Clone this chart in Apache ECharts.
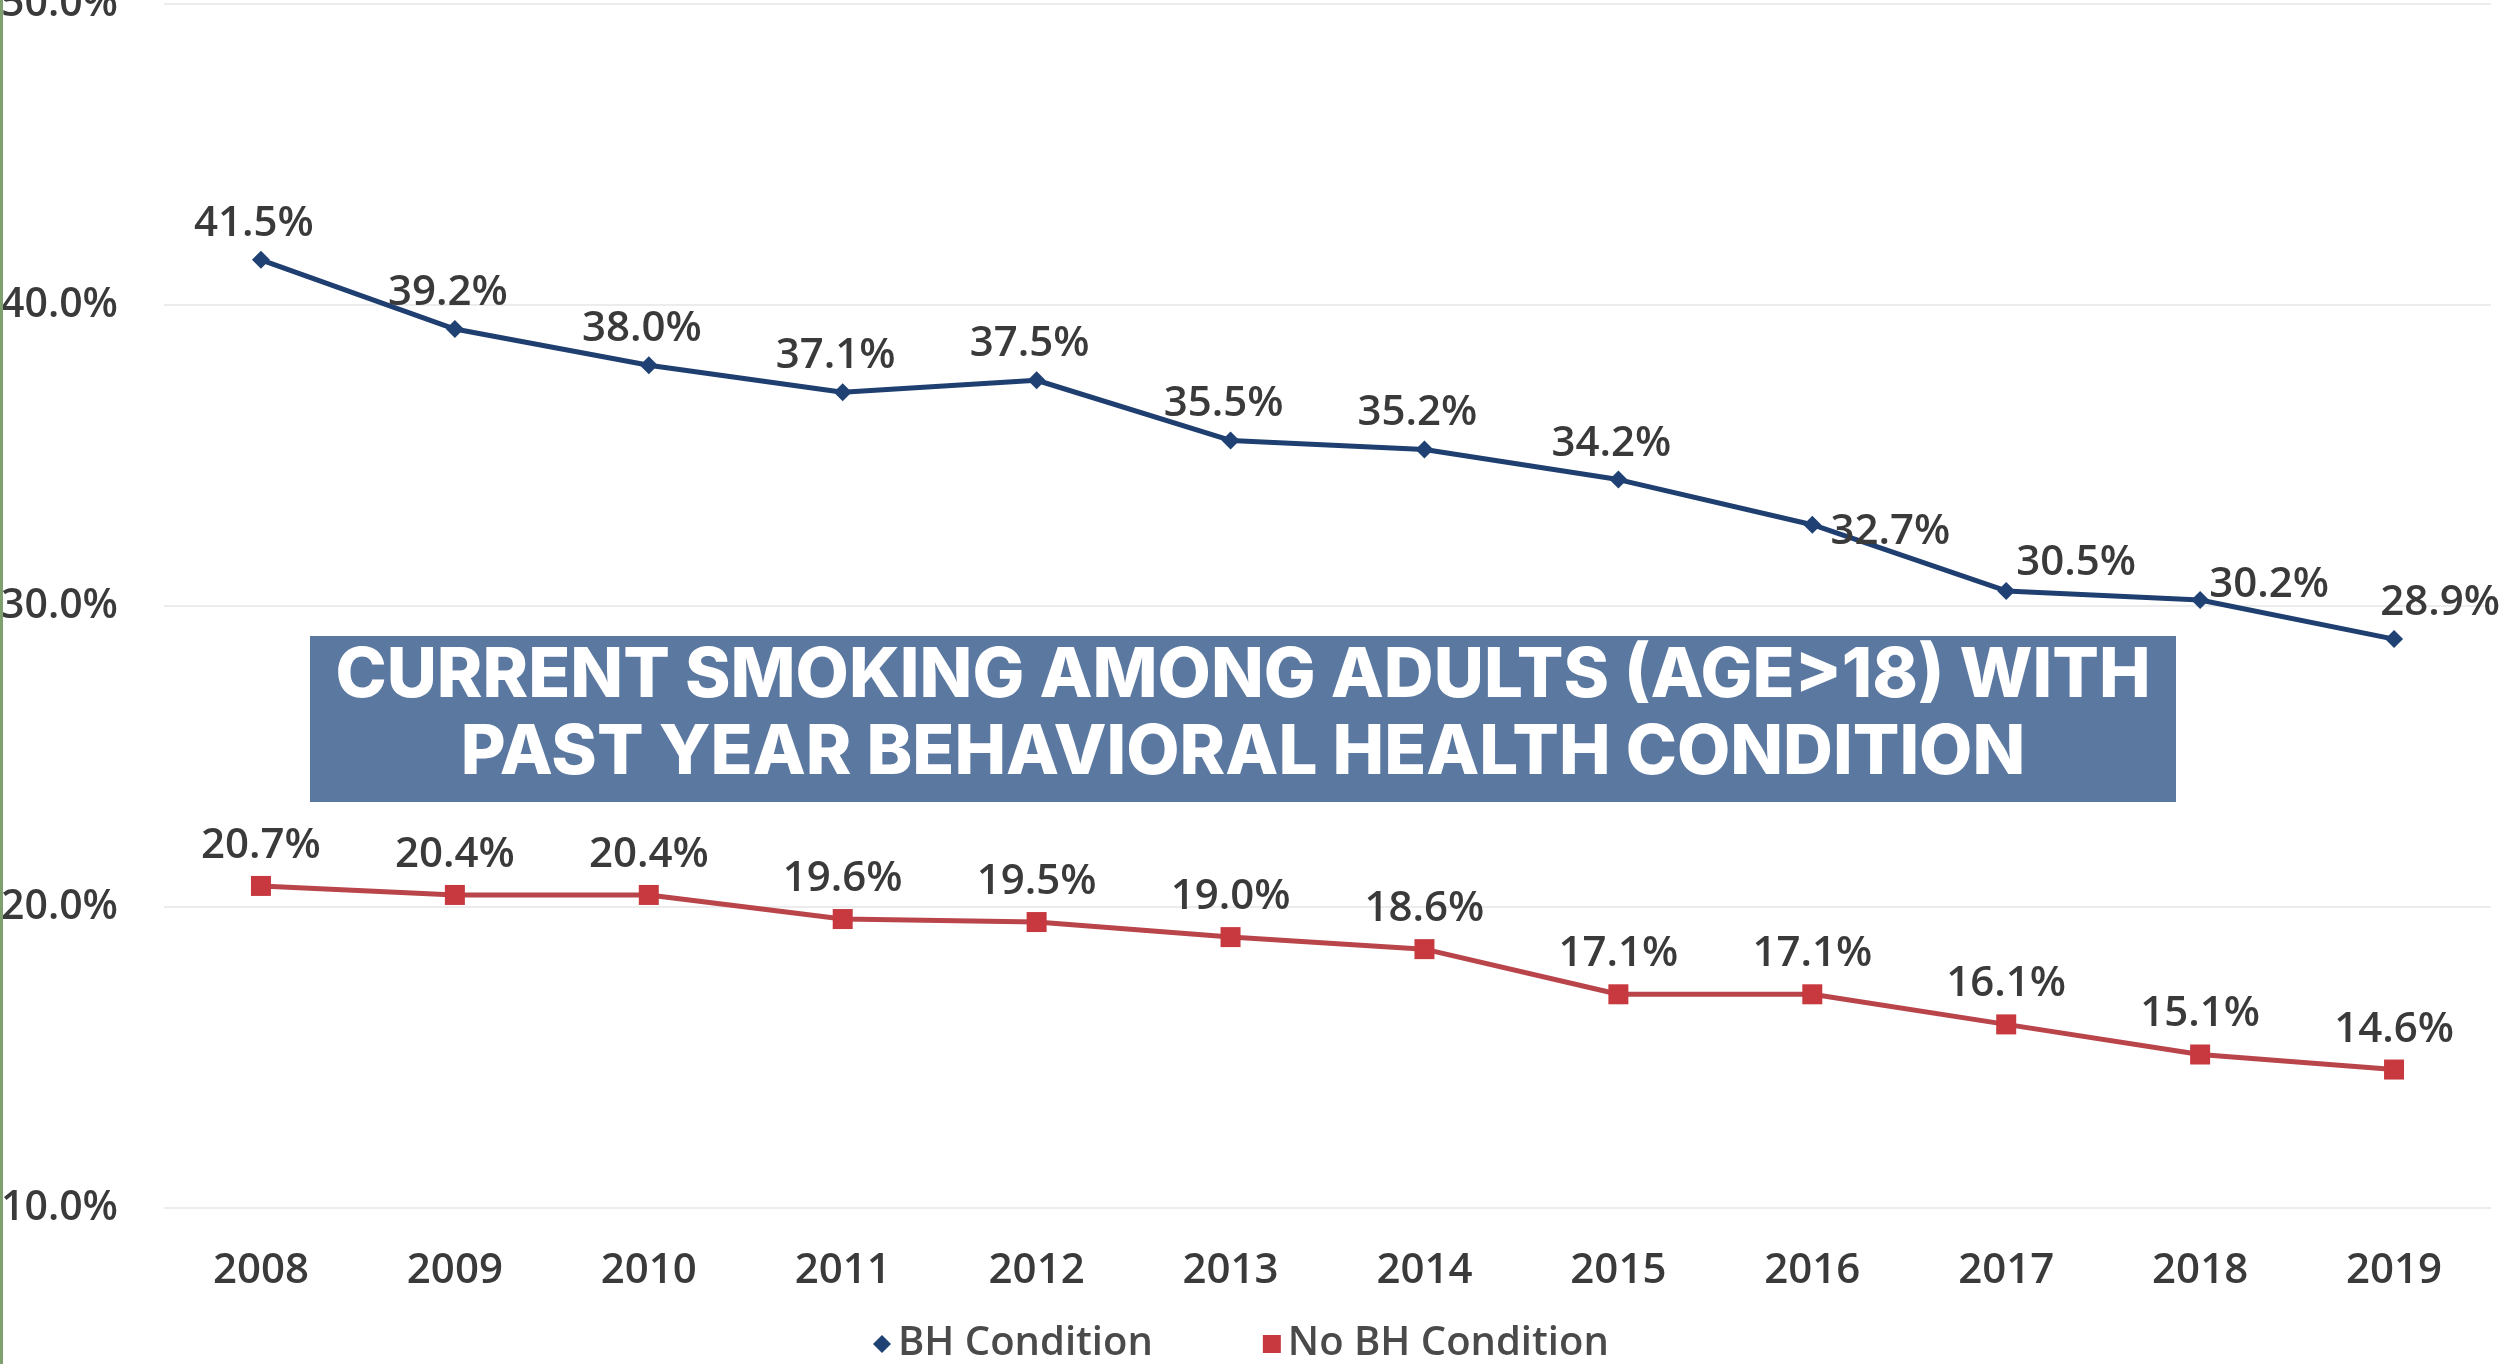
<!DOCTYPE html>
<html>
<head>
<meta charset="utf-8">
<script src="https://cdn.jsdelivr.net/npm/echarts@6/dist/echarts.min.js"></script>
<style>
html,body{margin:0;padding:0;background:#fff;}
#chart{width:2509px;height:1364px;}
</style>
</head>
<body>
<div id="chart"></div>
<script>
const years = ['2008','2009','2010','2011','2012','2013','2014','2015','2016','2017','2018','2019'];
const bhCondition = [41.5, 39.2, 38.0, 37.1, 37.5, 35.5, 35.2, 34.2, 32.7, 30.5, 30.2, 28.9];
const noBhCondition = [20.7, 20.4, 20.4, 19.6, 19.5, 19.0, 18.6, 17.1, 17.1, 16.1, 15.1, 14.6];
const seriesNames = ['BH Condition', 'No BH Condition'];
const titleText = 'CURRENT SMOKING AMONG ADULTS (AGE>18) WITH\nPAST YEAR BEHAVIORAL HEALTH CONDITION';

// label nudges (style only) for the BH series
const bhLabelNudge = {8: [78, 43], 9: [70, 8], 10: [69, 21], 11: [46, 0]};

const labelFont = {fontFamily: 'Open Sans', fontWeight: 600, fontSize: 42, color: '#3a3a3a'};

const chart = echarts.init(document.getElementById('chart'), null, {renderer: 'canvas'});
chart.setOption({
  backgroundColor: '#ffffff',
  animation: false,
  graphic: [
    {
      type: 'rect', x: 0, y: 0, shape: {width: 3, height: 1364},
      style: {fill: '#7fa06e'}, z: 30
    },
    {
      type: 'rect', x: 310, y: 636, shape: {width: 1866, height: 166},
      style: {fill: '#5B78A0'}, z: 20
    },
    {
      type: 'text', x: 1243, y: 715, z: 21,
      style: {
        text: titleText,
        fill: '#ffffff',
        fontFamily: 'Inter',
        fontWeight: 800,
        fontSize: 69,
        lineHeight: 77,
        textAlign: 'center',
        textVerticalAlign: 'middle'
      }
    }
  ],
  legend: {
    left: 868,
    top: 1319,
    itemWidth: 18,
    itemHeight: 18,
    itemGap: 110,
    textStyle: Object.assign({}, labelFont, {fontSize: 40, color: '#4a4a4a', padding: [0, 0, 0, 2]}),
    data: [
      {name: seriesNames[0], icon: 'diamond', itemStyle: {color: '#1F4173'}},
      {name: seriesNames[1], icon: 'rect', itemStyle: {color: '#C8393F'}}
    ]
  },
  grid: {left: 164, right: 18, top: 4, bottom: 156, containLabel: false, outerBoundsMode: 'none'},
  xAxis: {
    type: 'category',
    data: years,
    boundaryGap: true,
    axisLine: {show: false},
    axisTick: {show: false},
    axisLabel: Object.assign({}, labelFont, {margin: 42})
  },
  yAxis: {
    type: 'value',
    min: 10, max: 50, interval: 10,
    axisLine: {show: false},
    axisTick: {show: false},
    splitLine: {lineStyle: {color: '#ececec', width: 2}},
    axisLabel: Object.assign({}, labelFont, {fontSize: 41, margin: 46, formatter: v => v.toFixed(1) + '%'})
  },
  series: [
    {
      name: seriesNames[0],
      type: 'line',
      data: bhCondition.map((v, i) => bhLabelNudge[i] ? {value: v, label: {offset: bhLabelNudge[i]}} : v),
      symbol: 'diamond',
      symbolSize: 18,
      lineStyle: {color: '#1F3F70', width: 5},
      itemStyle: {color: '#1F4173'},
      label: Object.assign({show: true, position: 'top', distance: 6, offset: [-7, 0], formatter: p => p.value.toFixed(1) + '%'}, labelFont),
      z: 5
    },
    {
      name: seriesNames[1],
      type: 'line',
      data: noBhCondition,
      symbol: 'rect',
      symbolSize: 20,
      lineStyle: {color: '#B9454B', width: 5},
      itemStyle: {color: '#C8393F'},
      label: Object.assign({show: true, position: 'top', distance: 9, formatter: p => p.value.toFixed(1) + '%'}, labelFont),
      z: 5
    }
  ]
});
</script>
</body>
</html>
